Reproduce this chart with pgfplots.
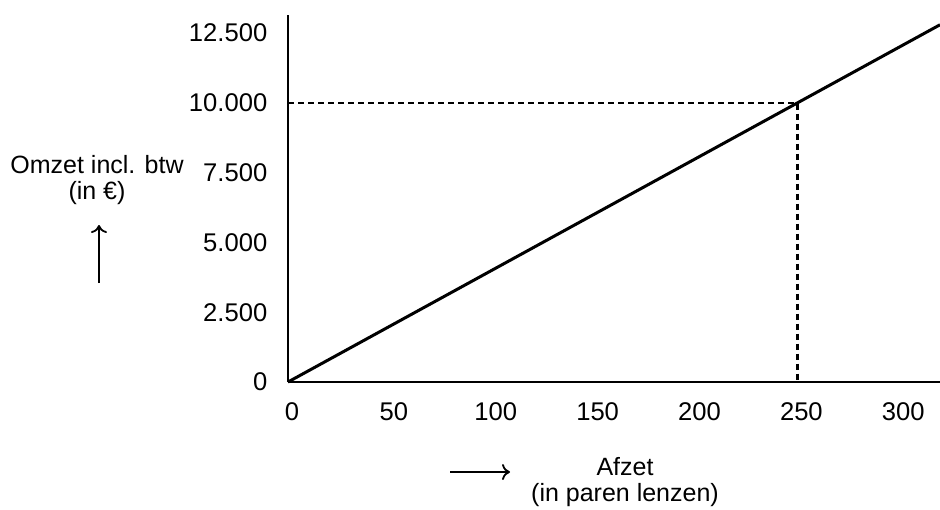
\documentclass[border=0pt]{standalone}
\usepackage{pgfplots}
\pgfplotsset{compat=1.18}
\usetikzlibrary{arrows.meta}
\usepackage{fontspec}
\setmainfont{Liberation Sans}
\begin{document}
\fontsize{12.5}{13}\selectfont
\begin{tikzpicture}
\begin{axis}[
  scale only axis, width=326pt, height=183.5pt,
  xmin=0, xmax=320, ymin=0, ymax=13150,
  axis lines=left, axis line style={-, line width=1.4pt},
  xtick={0,50,...,300}, ytick={0,2500,...,12500},
  scaled y ticks=false,
  major tick length=0pt,
  xticklabel style={yshift=-6pt, xshift=2pt},
  yticklabel style={xshift=-6pt},
  /pgf/number format/.cd, fixed, 1000 sep={.}, assume math mode=true,
  /pgfplots/.cd,
  tick label style={font=\fontsize{12.8}{13}\selectfont},
  clip=false,
]
\addplot[black, line width=1.5pt] coordinates {(0,0) (320,12800)};
\addplot[black, line width=1.35pt, dash pattern=on 3pt off 2pt] coordinates {(0,10000) (250,10000) (250,0)};
\coordinate (O) at (rel axis cs:0,0);
\end{axis}
\node[align=center, inner sep=0pt] at ([shift={(-95.5pt,101pt)}]O) {Omzet incl. btw\\(in €)};
\draw[line width=0.9pt, -{To[length=4pt,width=8pt]}] ([shift={(-94.5pt,49.5pt)}]O) -- ++(0,29pt);
\node[align=center, inner sep=0pt] at ([shift={(168.5pt,-50pt)}]O) {Afzet\\(in paren lenzen)};
\draw[line width=0.9pt, -{To[length=4pt,width=8pt]}] ([shift={(81pt,-45pt)}]O) -- ++(30pt,0);
\pgfresetboundingbox
\path ([shift={(-144pt,-63.5pt)}]O) rectangle ++(470pt,254.5pt);
\end{tikzpicture}
\end{document}
